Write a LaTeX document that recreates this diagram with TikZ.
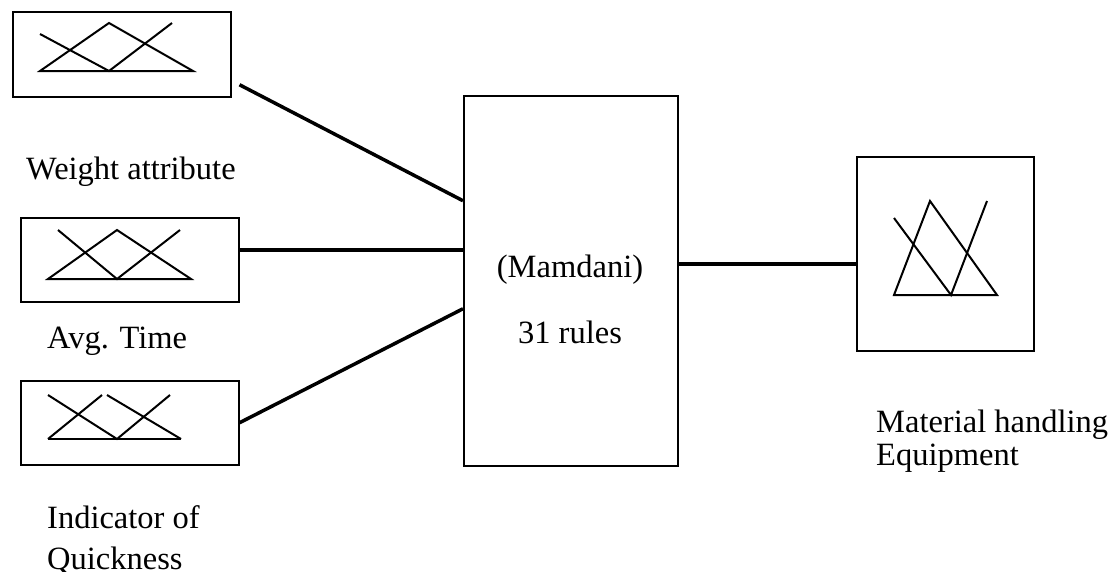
\documentclass[tikz,border=0pt]{standalone}
\usepackage{fontspec}
\setmainfont{Liberation Serif}
\begin{document}
\begin{tikzpicture}[x=1pt,y=-1pt,
  frame/.style={draw,line width=1.5pt,rectangle,inner sep=0pt,anchor=north west},
  link/.style={line width=3.5pt},
  mf/.style={line width=2pt,line join=miter},
  lbl/.style={inner sep=0pt,font=\fontsize{32.5}{34}\selectfont},
]
\useasboundingbox (0,0) rectangle (1114,571);
% boxes
\node[frame,minimum width=218pt,minimum height=85pt] (in1) at (12,11) {};
\node[frame,minimum width=218pt,minimum height=84pt] (in2) at (20,217) {};
\node[frame,minimum width=218pt,minimum height=84pt] (in3) at (20,380) {};
\node[frame,minimum width=214pt,minimum height=370pt] (core) at (463,95) {};
\node[frame,minimum width=177pt,minimum height=194pt] (out) at (856,156) {};
% membership functions
\draw[mf] (40,71) -- (109,23) -- (193,71) -- cycle;
\draw[mf] (40,34) -- (109,71) -- (172,23);
\draw[mf] (48,279) -- (117,230) -- (191,279) -- cycle;
\draw[mf] (58,230) -- (117,279) -- (180,230);
\draw[mf] (48,439) -- (181,439);
\draw[mf] (48,395) -- (117,439) -- (170,395);
\draw[mf] (48,439) -- (102,395);
\draw[mf] (107,395) -- (181,439);
\draw[mf] (894,295) -- (930,201) -- (997,295) -- cycle;
\draw[mf] (894,218) -- (951,295) -- (987,201);
% connectors
\draw[link] ([xshift=8pt,yshift=-30.5pt]in1.east) -- ([yshift=80pt]core.west);
\draw[link] ([yshift=10pt]in2.east) coordinate (k2) -- (k2 -| core.west);
\draw[link] (in3.east) -- ([yshift=-28pt]core.west);
\draw[link] ([yshift=17pt]core.east) coordinate (k4) -- (k4 -| out.west);
% labels
\node[lbl,anchor=base] (m1) at (570,277) {(Mamdani)};
\node[lbl,anchor=base] (m2) at (570,343) {31 rules};
\node[lbl,anchor=base west] (l1) at (26,179) {Weight attribute};
\node[lbl,anchor=base west] (l2) at (47,348) {Avg. Time};
\node[lbl,anchor=base west] (l3a) at (47,528) {Indicator of};
\node[lbl,anchor=base west] (l3b) at (47,569) {Quickness};
\node[lbl,anchor=base west] (l4a) at (876,432) {Material handling};
\node[lbl,anchor=base west] (l4b) at (876,465) {Equipment};
\end{tikzpicture}
\end{document}
